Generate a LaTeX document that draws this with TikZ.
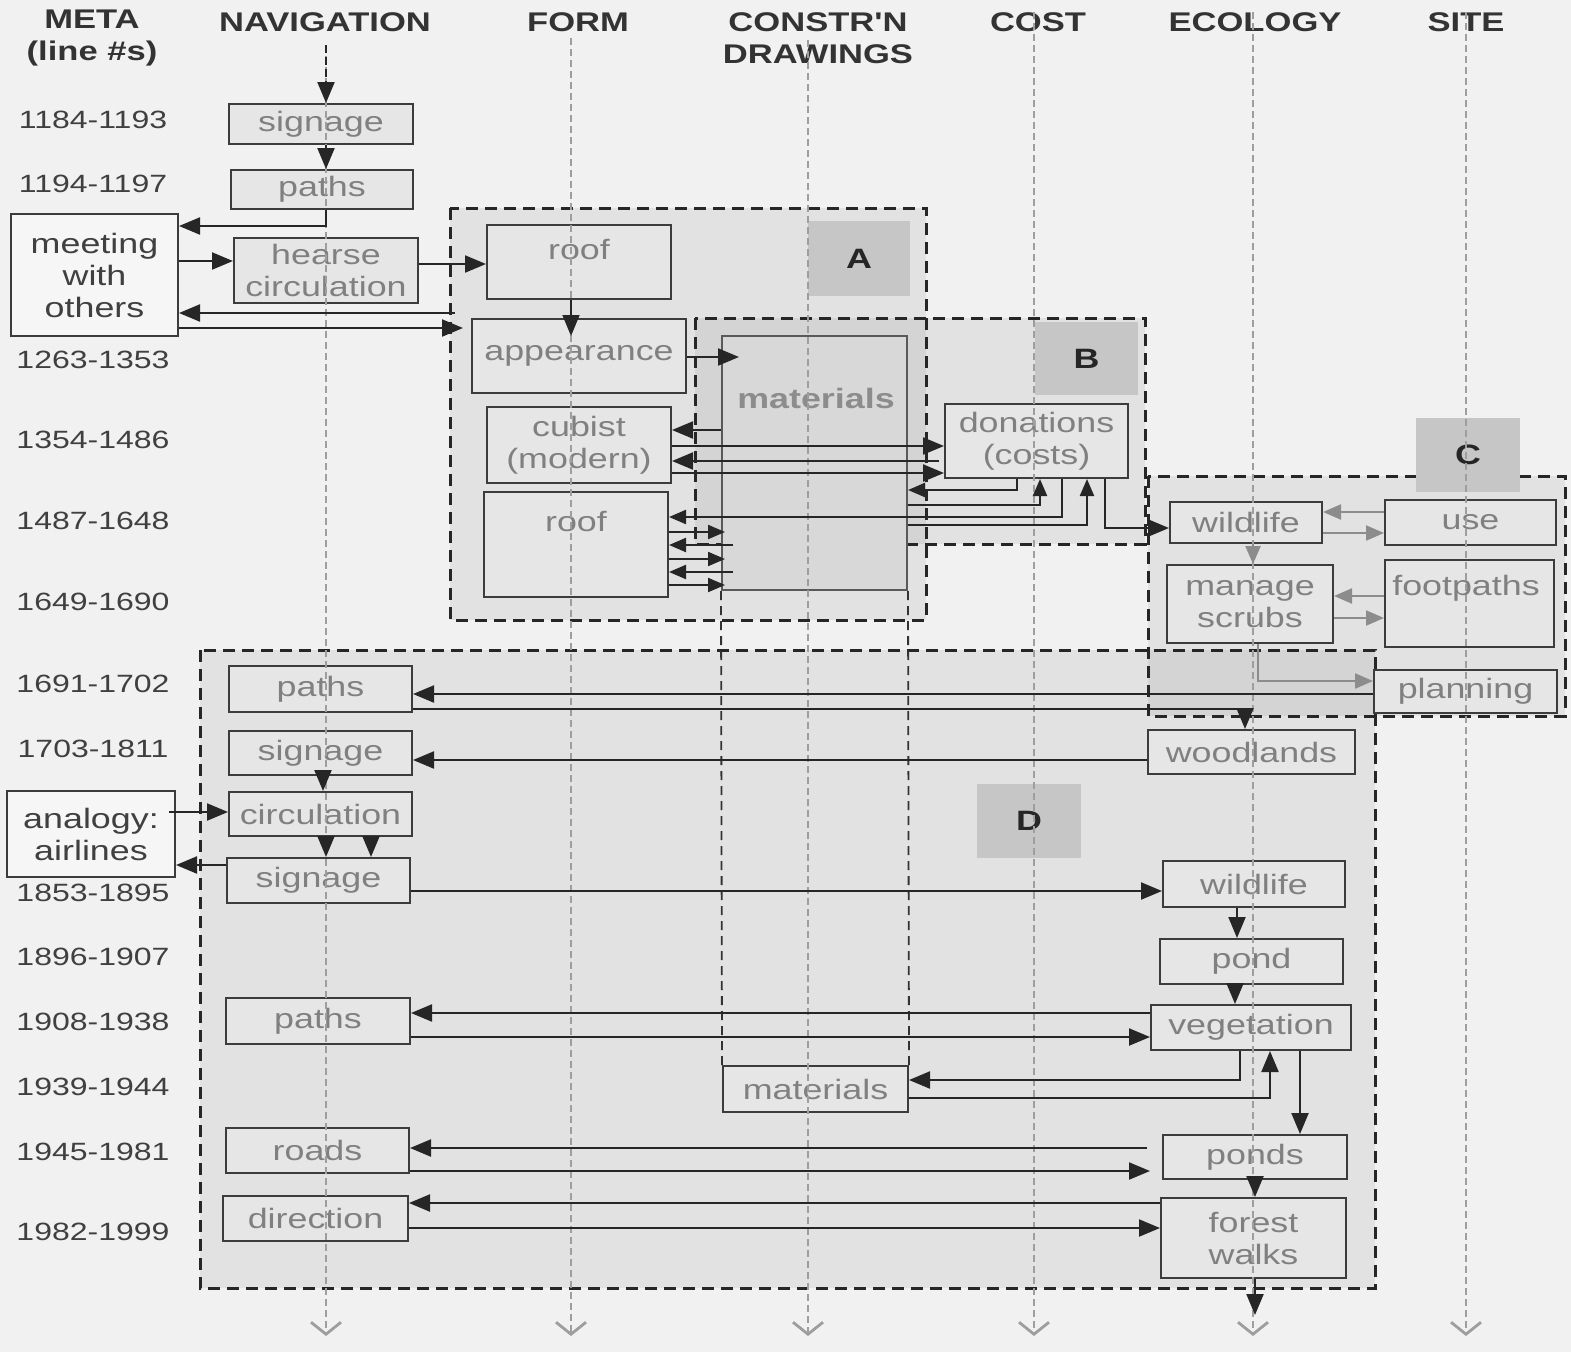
\documentclass[tikz,border=0pt]{standalone}
\usepackage{fontspec}
\setmainfont{Liberation Sans}
\newfontfamily\lsans{Liberation Sans}[FakeStretch=1.28]
\usetikzlibrary{arrows.meta}
\definecolor{bgc}{HTML}{F1F1F1}
\definecolor{boxfill}{HTML}{E6E6E6}
\definecolor{boxline}{HTML}{3C3C3C}
\definecolor{txtgray}{HTML}{808080}
\definecolor{colgray}{HTML}{9E9E9E}
\definecolor{labgray}{HTML}{C6C6C6}
\definecolor{matfill}{HTML}{D8D8D8}
\definecolor{whitebox}{HTML}{F6F6F6}
\begin{document}
\begin{tikzpicture}[x=1pt,y=-1pt,
  box/.style={draw=boxline, line width=2pt, fill=boxfill, inner sep=0pt, text=txtgray,
    font=\lsans\fontsize{28}{32}\selectfont, align=center},
  wbox/.style={box, fill=whitebox, text=black!75},
  btext/.style={inner sep=0pt, text=txtgray, font=\lsans\fontsize{28}{32}\selectfont, align=center},
  arr/.style={draw=black!85, line width=2.2pt, -{Triangle[length=21pt,width=17pt]}},
  sarr/.style={arr, -{Triangle[length=17pt,width=14pt]}},
  garr/.style={draw=black!45, line width=2.2pt, -{Triangle[length=18pt,width=15pt]}},
  regborder/.style={draw=black!85, line width=3pt, dash pattern=on 12pt off 7pt},
  blkdash/.style={draw=black!80, line width=1.8pt, dash pattern=on 9pt off 6pt},
  col/.style={draw=colgray, line width=1.6pt, dash pattern=on 7pt off 4pt,
    -{Straight Barb[length=12pt,width=30pt,line width=2.8pt]}},
  lbl/.style={fill=labgray, inner sep=0pt, font=\lsans\bfseries\fontsize{28}{30}\selectfont, text=black!85},
  linenum/.style={inner sep=0pt, font=\lsans\fontsize{25}{27}\selectfont, text=black!75},
  head/.style={inner sep=0pt, font=\lsans\bfseries\fontsize{27}{32}\selectfont, text=black!80, align=center}
]
\useasboundingbox (0,0) rectangle (1571,1352);
\fill[bgc] (0,0) rectangle (1571,1352);

% regions
\fill[black, opacity=0.06] (450,208) rectangle (926,620);
\fill[black, opacity=0.06] (695,318) rectangle (1145,544);
\fill[black, opacity=0.06] (1148,476) rectangle (1565,716);
\fill[black, opacity=0.06] (200,650) rectangle (1375,1288);
\draw[regborder] (450,208) rectangle (926,620);
\draw[regborder] (695,318) rectangle (1145,544);
\draw[regborder] (1148,476) rectangle (1565,716);
\draw[regborder] (200,650) rectangle (1375,1288);
\node[lbl, minimum width=102, minimum height=75] (labA) at (859,258.5) {A};
\node[lbl, minimum width=103, minimum height=73] (labB) at (1086.5,358.5) {B};
\node[lbl, minimum width=104, minimum height=74] (labC) at (1468,455) {C};
\node[lbl, minimum width=104, minimum height=74] (labD) at (1029,821) {D};

% headers
\node[head] (hMeta) at (92,38) {META\\(line \#s)};
\node[head] (hNav) at (325,22) {NAVIGATION};
\node[head] (hForm) at (578,22) {FORM};
\node[head] (hCon) at (818,38) {CONSTR'N\\DRAWINGS};
\node[head] (hCost) at (1038,22) {COST};
\node[head] (hEco) at (1255,22) {ECOLOGY};
\node[head] (hSite) at (1466,22) {SITE};

% line numbers
\foreach \t/\y [count=\i] in {1184-1193/120,1194-1197/184,1263-1353/360,1354-1486/440,
  1487-1648/521,1649-1690/602,1691-1702/684,1703-1811/749,1853-1895/893,1896-1907/957,
  1908-1938/1022,1939-1944/1087,1945-1981/1152,1982-1999/1232}
  \node[linenum] (ln\i) at (93,\y) {\t};

% boxes
\node[box, minimum width=184, minimum height=40] (sig1) at (321,124) {signage};
\node[box, minimum width=182, minimum height=39] (paths1) at (322,189.5) {paths};
\node[wbox, minimum width=167, minimum height=122] (meeting) at (94.5,275) {meeting\\with\\others};
\node[box, minimum width=184, minimum height=65] (hearse) at (326,270.5) {hearse\\circulation};
\node[box, minimum width=184, minimum height=74] (roof1) at (579,262) {};
\node[btext] (roof1t) at (579,250) {roof};
\node[box, minimum width=214, minimum height=74] (appear) at (579,356) {appearance};
\node[box, minimum width=184, minimum height=76] (cubist) at (579,445) {cubist\\(modern)};
\node[box, minimum width=184, minimum height=105] (roof2) at (576,544.5) {};
\node[btext] (roof2t) at (576,521) {roof};
\node[box, fill=matfill, draw=black!65, minimum width=185, minimum height=254] (matbig) at (814.5,463) {};
\node[btext, font=\lsans\bfseries\fontsize{28}{32}\selectfont, text=black!45] (matbigt) at (816,398) {materials};
\node[box, minimum width=183, minimum height=74] (don) at (1036.5,441) {donations\\(costs)};
\node[box, minimum width=152, minimum height=41] (wild1) at (1246,522.5) {wildlife};
\node[box, minimum width=171, minimum height=45] (use) at (1470.5,522.5) {use};
\node[box, minimum width=166, minimum height=78] (manage) at (1250,604) {manage\\scrubs};
\node[box, minimum width=169, minimum height=87] (foot) at (1469.5,603.5) {};
\node[btext] (foott) at (1466,588) {footpaths};
\node[box, minimum width=183, minimum height=43] (plan) at (1465.5,691.5) {planning};
\node[box, minimum width=183, minimum height=46] (paths2) at (320.5,689) {paths};
\node[box, minimum width=183, minimum height=44] (sig2) at (320.5,753) {signage};
\node[box, minimum width=183, minimum height=44] (circ) at (320.5,814) {circulation};
\node[wbox, minimum width=168, minimum height=86] (analogy) at (91,834) {analogy:\\airlines};
\node[box, minimum width=183, minimum height=45] (sig3) at (318.5,880.5) {signage};
\node[box, minimum width=207, minimum height=44] (wood) at (1251.5,752) {woodlands};
\node[box, minimum width=182, minimum height=46] (wild2) at (1254,884) {wildlife};
\node[box, minimum width=183, minimum height=45] (pond) at (1251.5,961.5) {pond};
\node[box, minimum width=200, minimum height=45] (veg) at (1251,1027.5) {vegetation};
\node[box, minimum width=185, minimum height=46] (mat2) at (815.5,1089) {materials};
\node[box, minimum width=184, minimum height=46] (paths3) at (318,1021) {paths};
\node[box, minimum width=183, minimum height=45] (roads) at (317.5,1150.5) {roads};
\node[box, minimum width=184, minimum height=44] (ponds) at (1255,1157) {ponds};
\node[box, minimum width=185, minimum height=45] (direction) at (315.5,1218.5) {direction};
\node[box, minimum width=185, minimum height=80] (forest) at (1253.5,1238) {forest\\walks};

% black dashed continuation of the materials box
\draw[blkdash] (matbig.south west) -- (mat2.north west);
\draw[blkdash] (matbig.south east) -- (mat2.north east);

% column lines
\coordinate (nx) at (326,0);
\coordinate (fx) at (571,0);
\draw[col] (326,45) -- (326,1336);
\draw[col] (571,38) -- (571,1336);
\draw[col] (808,40) -- (808,1336);
\draw[col] (1034,12) -- (1034,1336);
\draw[col] (1253,12) -- (1253,1336);
\draw[col] (1466,12) -- (1466,1336);

% connectors (top)
\coordinate (navtop) at (326,45);
\draw[arr, dash pattern=on 8pt off 4pt] (navtop) -- (navtop |- sig1.north);
\draw[arr] (sig1.south -| nx) -- (paths1.north -| nx);
\draw[arr] (paths1.south -| nx) |- (meeting.east |- 0,226);
\draw[arr] (meeting.east |- 0,261) -- (hearse.west |- 0,261);
\draw[arr] (hearse.east |- 0,264) -- (roof1.west |- 0,264);
\coordinate (a1) at (455,313);
\coordinate (a2) at (463,328);
\draw[arr] (a1) -- (meeting.east |- a1);
\draw[arr] (meeting.east |- a2) -- (a2);
\draw[arr, line width=1.6pt] (roof1.south -| fx) -- (appear.north -| fx) [shorten >=-18pt];
\draw[arr] (appear.east |- 0,357) -- ([xshift=18pt]matbig.west |- 0,357);
\draw[arr] (matbig.west |- 0,430) -- (cubist.east |- 0,430);
\draw[arr] (cubist.east |- 0,446) -- (don.west |- 0,446);
\draw[arr] ([xshift=-5pt]don.west |- 0,461) -- (cubist.east |- 0,461);
\draw[arr] (cubist.east |- 0,473) -- (don.west |- 0,473);
\draw[sarr] (don.south -| 1017,0) |- (matbig.east |- 0,490);
\draw[sarr] (matbig.east |- 0,505) -| (don.south -| 1040,0);
\draw[sarr] (don.south -| 1062,0) |- (roof2.east |- 0,517);
\draw[sarr] (matbig.east |- 0,525) -| (don.south -| 1087,0);
\draw[arr] (don.south -| 1105,0) |- (wild1.west |- 0,528);
\draw[sarr] (roof2.east |- 0,532) -- ([xshift=4pt]matbig.west |- 0,532);
\draw[sarr] ([xshift=12pt]matbig.west |- 0,545) -- (roof2.east |- 0,545);
\draw[sarr] (roof2.east |- 0,559) -- ([xshift=4pt]matbig.west |- 0,559);
\draw[sarr] ([xshift=12pt]matbig.west |- 0,572) -- (roof2.east |- 0,572);
\draw[sarr] (roof2.east |- 0,585) -- ([xshift=4pt]matbig.west |- 0,585);

% region C (grey)
\draw[garr] (use.west |- 0,512) -- (wild1.east |- 0,512);
\draw[garr] (wild1.east |- 0,533) -- (use.west |- 0,533);
\draw[garr] (wild1.south -| 1253,0) -- (manage.north -| 1253,0);
\draw[garr] (foot.west |- 0,596) -- (manage.east |- 0,596);
\draw[garr] (manage.east |- 0,618) -- (foot.west |- 0,618);
\draw[garr] (manage.south -| 1258,0) |- (plan.west |- 0,681);

% region D
\draw[arr] (plan.west |- 0,694) -- (paths2.east |- 0,694);
\draw[arr] (paths2.east |- 0,709) -| (wood.north -| 1245,0);
\draw[arr] (wood.west |- 0,760) -- (sig2.east |- 0,760);
\draw[arr] (sig2.south -| 323,0) -- (circ.north -| 323,0);
\draw[arr] ([xshift=-7pt]analogy.east |- 0,812) -- (circ.west |- 0,812);
\draw[arr] (circ.south -| 326,0) -- (sig3.north -| 326,0);
\draw[arr] (circ.south -| 371,0) -- (sig3.north -| 371,0);
\draw[arr] (sig3.west |- 0,865) -- (analogy.east |- 0,865);
\draw[arr] (sig3.east |- 0,891) -- (wild2.west |- 0,891);
\draw[arr] (wild2.south -| 1237,0) -- (pond.north -| 1237,0);
\draw[arr] (pond.south -| 1235,0) -- (veg.north -| 1235,0);
\draw[arr] (veg.west |- 0,1013) -- (paths3.east |- 0,1013);
\draw[arr] (paths3.east |- 0,1037) -- (veg.west |- 0,1037);
\draw[arr] (veg.south -| 1240,0) |- (mat2.east |- 0,1080);
\draw[arr] (mat2.east |- 0,1098) -| (veg.south -| 1270,0);
\draw[arr] (veg.south -| 1300,0) -- (ponds.north -| 1300,0);
\draw[arr] ([xshift=-15pt]ponds.west |- 0,1148) -- (roads.east |- 0,1148);
\draw[arr] (roads.east |- 0,1171) -- ([xshift=-12pt]ponds.west |- 0,1171);
\draw[arr] (ponds.south -| 1255,0) -- (forest.north -| 1255,0);
\draw[arr] (forest.west |- 0,1203) -- (direction.east |- 0,1203);
\draw[arr] (direction.east |- 0,1228) -- (forest.west |- 0,1228);
\coordinate (ecoend) at (1255,1315);
\draw[arr] (forest.south -| ecoend) -- (ecoend);
\end{tikzpicture}
\end{document}
